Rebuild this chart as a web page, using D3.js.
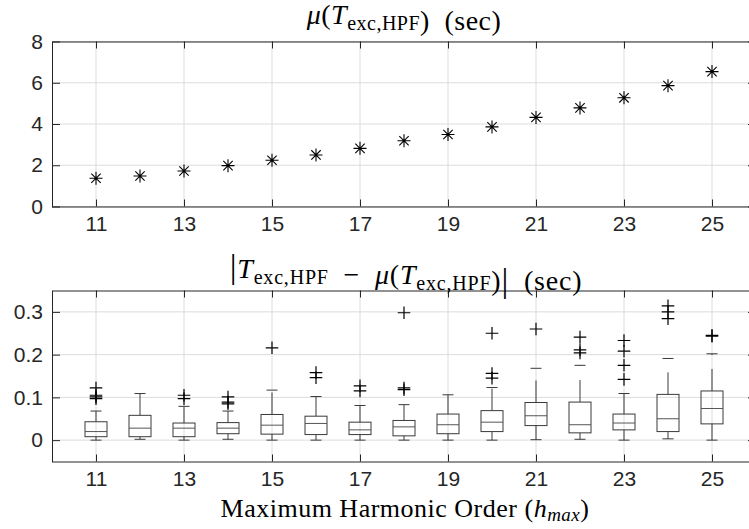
<!DOCTYPE html>
<html>
<head>
<meta charset="utf-8">
<title>Harmonic order timing</title>
<script src="https://d3js.org/d3.v7.min.js"></script>
<style>
  body { margin: 0; background: #fff; }
  svg text { fill: #262626; }
  .tick text { font-family: "Liberation Sans", Arial, sans-serif; font-size: 21px; fill: #262626; }
  .tick line { stroke: #262626; }
  .domain { display: none; }
  .ttl { font-family: "Liberation Serif", "Times New Roman", serif; fill: #000; }
</style>
</head>
<body>
<div id="chart"></div>
<script>
// harmonic orders on the x axis
var orders = [11, 12, 13, 14, 15, 16, 17, 18, 19, 20, 21, 22, 23, 24, 25];
var xTicks = [11, 13, 15, 17, 19, 21, 23, 25];

// top panel: mean execution time (sec)
var meanTime = [1.37, 1.48, 1.72, 1.98, 2.24, 2.50, 2.82, 3.19, 3.49, 3.86, 4.32, 4.78, 5.27, 5.86, 6.54];
var topTicks = [0, 2, 4, 6, 8];

// bottom panel: box stats of |T - mean(T)| (sec)
var whiskerLow  = [0.000, 0.002, 0.000, 0.002, 0.000, 0.000, 0.000, 0.000, 0.000, 0.000, 0.001, 0.002, 0.000, 0.003, 0.000];
var q1          = [0.008, 0.008, 0.008, 0.015, 0.014, 0.013, 0.013, 0.010, 0.015, 0.020, 0.034, 0.017, 0.024, 0.020, 0.038];
var medians     = [0.020, 0.028, 0.028, 0.028, 0.035, 0.039, 0.024, 0.031, 0.036, 0.042, 0.057, 0.036, 0.040, 0.050, 0.074];
var q3          = [0.043, 0.058, 0.040, 0.041, 0.060, 0.056, 0.042, 0.046, 0.061, 0.069, 0.088, 0.089, 0.061, 0.107, 0.115];
var whiskerHigh = [0.068, 0.109, 0.079, 0.068, 0.117, 0.102, 0.081, 0.083, 0.106, 0.123, 0.168, 0.175, 0.109, 0.191, 0.202];
var outliers = [
  [0.122, 0.105, 0.101, 0.097],
  [],
  [0.105, 0.097],
  [0.101, 0.089, 0.085],
  [0.216],
  [0.158, 0.146],
  [0.127, 0.115],
  [0.298, 0.122, 0.118],
  [],
  [0.250, 0.156, 0.145],
  [0.260],
  [0.241, 0.211, 0.204],
  [0.233, 0.208, 0.175, 0.142],
  [0.314, 0.300, 0.284],
  [0.245, 0.243]
];
var bottomTicks = [0, 0.1, 0.2, 0.3];

var width = 749, height = 529;
var left = 52, right = 756;

var svg = d3.select("#chart").append("svg")
  .attr("width", width)
  .attr("height", height);

var x = d3.scaleLinear().domain([10, 26]).range([left, right]);

function panel(top, bottom, yDomain, yTicks, fmt) {
  var y = d3.scaleLinear().domain(yDomain).range([bottom, top]);
  var g = svg.append("g");

  // grid
  g.append("g").selectAll("line.gx").data(xTicks).enter().append("line")
    .attr("x1", function(d) { return x(d); }).attr("x2", function(d) { return x(d); })
    .attr("y1", top).attr("y2", bottom)
    .attr("stroke", "#dcdcdc").attr("stroke-width", 1);
  g.append("g").selectAll("line.gy").data(yTicks).enter().append("line")
    .attr("x1", left).attr("x2", right)
    .attr("y1", function(d) { return y(d); }).attr("y2", function(d) { return y(d); })
    .attr("stroke", "#dcdcdc").attr("stroke-width", 1);

  // ticks (inward)
  g.append("g").attr("transform", "translate(0," + bottom + ")")
    .call(d3.axisBottom(x).tickValues(xTicks).tickSizeInner(-7).tickSizeOuter(0).tickPadding(10));
  g.append("g").attr("transform", "translate(0," + top + ")")
    .call(d3.axisTop(x).tickValues(xTicks).tickSizeInner(-7).tickSizeOuter(0).tickFormat(""));
  g.append("g").attr("transform", "translate(" + left + ",0)")
    .call(d3.axisLeft(y).tickValues(yTicks).tickSizeInner(-8).tickSizeOuter(0).tickPadding(9).tickFormat(fmt));
  g.append("g").attr("transform", "translate(" + right + ",0)")
    .call(d3.axisRight(y).tickValues(yTicks).tickSizeInner(-8).tickSizeOuter(0).tickFormat(""));

  // box frame
  g.append("rect")
    .attr("x", left + 0.5).attr("y", top + 0.5)
    .attr("width", right - left).attr("height", bottom - top)
    .attr("fill", "none").attr("stroke", "#262626").attr("stroke-width", 1);

  return { g: g, y: y };
}

// ---- top panel
var p1 = panel(41.5, 206.5, [0, 8], topTicks, d3.format("d"));
var r = 6.5;
var star = "M0," + (-r) + "V" + r + "M" + (-r) + ",0H" + r +
  "M" + (-r * 0.72) + "," + (-r * 0.72) + "L" + (r * 0.72) + "," + (r * 0.72) +
  "M" + (-r * 0.72) + "," + (r * 0.72) + "L" + (r * 0.72) + "," + (-r * 0.72);
p1.g.append("g").selectAll("path").data(orders).enter().append("path")
  .attr("transform", function(d, i) { return "translate(" + x(d) + "," + p1.y(meanTime[i]) + ")"; })
  .attr("d", star)
  .attr("fill", "none").attr("stroke", "#000").attr("stroke-width", 1.1);

// ---- bottom panel
var p2 = panel(290.5, 461.5, [-0.05, 0.35], bottomTicks, function(d) { return d === 0 ? "0" : d3.format(".1f")(d); });
var y2 = p2.y;
var boxW = 0.5, capW = 0.25;
var boxColor = "#3a3a3a";

var boxes = p2.g.append("g").selectAll("g.box").data(orders).enter().append("g").attr("class", "box");

// upper whisker (dashed, starting at the box)
boxes.append("line")
  .attr("x1", function(d) { return x(d); }).attr("x2", function(d) { return x(d); })
  .attr("y1", function(d, i) { return y2(q3[i]); }).attr("y2", function(d, i) { return y2(whiskerHigh[i]); })
  .attr("stroke", boxColor).attr("stroke-dasharray", "22,14");
// lower whisker
boxes.append("line")
  .attr("x1", function(d) { return x(d); }).attr("x2", function(d) { return x(d); })
  .attr("y1", function(d, i) { return y2(q1[i]); }).attr("y2", function(d, i) { return y2(whiskerLow[i]); })
  .attr("stroke", boxColor).attr("stroke-dasharray", "22,14");
// caps
boxes.append("line")
  .attr("x1", function(d) { return x(d - capW / 2); }).attr("x2", function(d) { return x(d + capW / 2); })
  .attr("y1", function(d, i) { return y2(whiskerHigh[i]); }).attr("y2", function(d, i) { return y2(whiskerHigh[i]); })
  .attr("stroke", boxColor);
boxes.append("line")
  .attr("x1", function(d) { return x(d - capW / 2); }).attr("x2", function(d) { return x(d + capW / 2); })
  .attr("y1", function(d, i) { return y2(whiskerLow[i]); }).attr("y2", function(d, i) { return y2(whiskerLow[i]); })
  .attr("stroke", boxColor);
// box
boxes.append("rect")
  .attr("x", function(d) { return x(d - boxW / 2); })
  .attr("y", function(d, i) { return y2(q3[i]); })
  .attr("width", x(boxW) - x(0))
  .attr("height", function(d, i) { return y2(q1[i]) - y2(q3[i]); })
  .attr("fill", "none").attr("stroke", boxColor);
// median
boxes.append("line")
  .attr("x1", function(d) { return x(d - boxW / 2); }).attr("x2", function(d) { return x(d + boxW / 2); })
  .attr("y1", function(d, i) { return y2(medians[i]); }).attr("y2", function(d, i) { return y2(medians[i]); })
  .attr("stroke", "#555");

// outliers
var pr = 6.3;
var plus = "M0," + (-pr) + "V" + pr + "M" + (-pr) + ",0H" + pr;
boxes.each(function(d, i) {
  d3.select(this).selectAll("path.out").data(outliers[i]).enter().append("path")
    .attr("class", "out")
    .attr("transform", function(v) { return "translate(" + x(d) + "," + y2(v) + ")"; })
    .attr("d", plus)
    .attr("fill", "none").attr("stroke", "#000").attr("stroke-width", 1.2);
});

// ---- titles
function sub(t, s) {
  t.append("tspan").attr("font-style", "italic").text("T");
  t.append("tspan").attr("font-size", s).attr("dy", 6).text("exc,HPF");
  t.append("tspan").attr("dy", -6).text("");
}

var t1 = svg.append("text").attr("class", "ttl").attr("x", 404).attr("y", 24)
  .attr("text-anchor", "middle").attr("font-size", 28).attr("letter-spacing", 0.5);
t1.append("tspan").attr("font-style", "italic").text("\u03bc");
t1.append("tspan").text("(");
sub(t1, 20);
t1.append("tspan").text(")\u2002(sec)");

var t2 = svg.append("text").attr("class", "ttl").attr("x", 406).attr("y", 276)
  .attr("text-anchor", "middle").attr("font-size", 28).attr("letter-spacing", 0.8);
t2.append("tspan").attr("font-size", 34).attr("dy", 2).text("|");
t2.append("tspan").attr("dy", -2).text("");
sub(t2, 20);
t2.append("tspan").text("\u2002\u2212\u2002");
t2.append("tspan").attr("font-style", "italic").text("\u03bc");
t2.append("tspan").text("(");
sub(t2, 20);
t2.append("tspan").text(")");
t2.append("tspan").attr("font-size", 34).attr("dy", 2).text("|");
t2.append("tspan").attr("dy", -2).text("\u2002(sec)");

var xl = svg.append("text").attr("class", "ttl").attr("x", 405).attr("y", 517)
  .attr("text-anchor", "middle").attr("font-size", 26).attr("letter-spacing", 0.5);
xl.append("tspan").text("Maximum Harmonic Order (");
xl.append("tspan").attr("font-style", "italic").text("h");
xl.append("tspan").attr("font-style", "italic").attr("font-size", 19).attr("dy", 4).text("max");
xl.append("tspan").attr("dy", -4).text(")");
</script>
</body>
</html>
